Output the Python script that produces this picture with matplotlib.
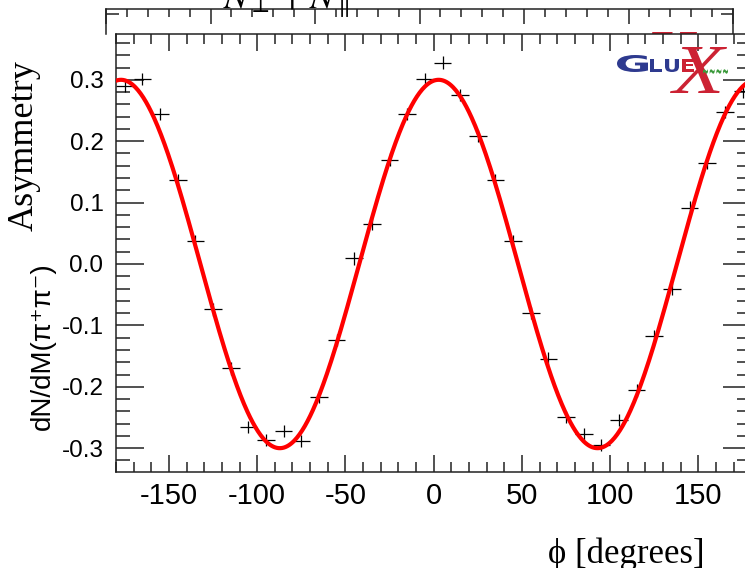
#!/usr/bin/env python3
"""
Beam asymmetry vs phi, with the GlueX logo (recreated from a screenshot)
"""

import numpy as np
import matplotlib
matplotlib.use("Agg")
import matplotlib.pyplot as plt
from matplotlib.ticker import MultipleLocator
from matplotlib.textpath import TextPath
from matplotlib.patches import PathPatch
from matplotlib.font_manager import FontProperties
from matplotlib.transforms import Affine2D, IdentityTransform

plt.rcParams["axes.unicode_minus"] = False

W, H = 745, 568  # output size in pixels

# --- data ---
phi_centers = [-175, -165, -155, -145, -135, -125, -115, -105, -95, -85,
               -75, -65, -55, -45, -35, -25, -15, -5, 5, 15,
               25, 35, 45, 55, 65, 75, 85, 95, 105, 115,
               125, 135, 145, 155, 165, 175]
asymmetry = [0.290, 0.301, 0.244, 0.137, 0.037, -0.074, -0.170, -0.266, -0.287, -0.272,
             -0.288, -0.216, -0.124, 0.009, 0.065, 0.170, 0.244, 0.301, 0.328, 0.275,
             0.208, 0.136, 0.038, -0.080, -0.154, -0.249, -0.277, -0.295, -0.254, -0.206,
             -0.118, -0.041, 0.092, 0.164, 0.248, 0.281]
asym_err = 0.010
bin_half_width = 5

# fit: A cos(2(phi - phi0))
fit_amplitude = 0.300
fit_phase = 2.8

x_ticks = [-150, -100, -50, 0, 50, 100, 150]
y_ticks = [-0.3, -0.2, -0.1, 0.0, 0.1, 0.2, 0.3]


def px_box(x0, y0, x1, y1):
    """pixel box (top-left origin) -> figure fraction rect"""
    return [x0 / W, 1 - y1 / H, (x1 - x0) / W, (y1 - y0) / H]


def logo_glyph(fig, s, x0, y0, x1, y1, color, prop, zorder):
    """draw text s stretched into the pixel box (top-left origin)"""
    tp = TextPath((0, 0), s, size=1, prop=prop)
    bb = tp.get_extents()
    tr = (Affine2D().translate(-bb.x0, -bb.y0)
          .scale((x1 - x0) / bb.width, (y1 - y0) / bb.height)
          .translate(x0, H - y1))
    patch = PathPatch(tr.transform_path(tp), facecolor=color, edgecolor="none",
                      transform=IdentityTransform(), zorder=zorder)
    fig.add_artist(patch)


def draw_logo(fig, dx, dy, zorder):
    blue = "#2e3a8f"
    red = "#cc2233"
    bold = FontProperties(family="DejaVu Sans", weight="bold")
    xfont = FontProperties(family="Liberation Serif", style="italic")
    logo_glyph(fig, "G", 617 + dx, 55 + dy, 648 + dx, 72 + dy, blue, bold, zorder)
    logo_glyph(fig, "L", 650 + dx, 59 + dy, 662 + dx, 72 + dy, blue, bold, zorder)
    logo_glyph(fig, "U", 665 + dx, 59 + dy, 679 + dx, 72 + dy, blue, bold, zorder)
    logo_glyph(fig, "E", 682 + dx, 59 + dy, 694 + dx, 72 + dy, red, bold, zorder)
    logo_glyph(fig, "X", 670 + dx, 47 + dy, 727 + dx, 93 + dy, red, xfont, zorder)
    logo_glyph(fig, "~~~~", 703 + dx, 69 + dy, 728 + dx, 74 + dy, "#3c9a3c", bold, zorder + 0.1)


fig = plt.figure(figsize=(W / 100, H / 100), dpi=100)

# back frame peeking out above the main plot
back = fig.add_axes(px_box(106, 9, 733, 34), zorder=-1)
back.set_facecolor("none")
back.set_xlim(0, 6)
back.set_ylim(0, 1)
back.spines["bottom"].set_visible(False)
for sp in back.spines.values():
    sp.set_linewidth(1.1)
    sp.set_color("#222222")
back.xaxis.set_major_locator(MultipleLocator(1))
back.xaxis.set_minor_locator(MultipleLocator(0.2))
back.set_yticks([0.8])
back.tick_params(axis="x", which="both", direction="in", top=True, bottom=False,
                 labeltop=False, labelbottom=False, width=1.1, color="#222222")
back.tick_params(axis="x", which="major", length=11)
back.tick_params(axis="x", which="minor", length=6)
back.tick_params(axis="y", direction="in", left=True, right=True, labelleft=False,
                 length=9, width=1.1, color="#222222")
draw_logo(fig, -30, -15, -2)

fig.text(223 / W, 1 - 8 / H, r"$N_{\perp} + N_{\parallel}$", fontsize=26,
         math_fontfamily="stix", va="baseline", ha="left")

# main plot
ax = fig.add_axes(px_box(116, 34, 751.4, 472))
ax.set_facecolor("white")
ax.set_xlim(-180, 180)
ax.set_ylim(-0.3388, 0.3746)

ax.errorbar(phi_centers, asymmetry, xerr=bin_half_width, yerr=asym_err,
            fmt="none", ecolor="black", elinewidth=0.9, zorder=2)

phi = np.linspace(-180, 180, 721)
ax.plot(phi, fit_amplitude * np.cos(2 * np.radians(phi - fit_phase)),
        color="#ff0000", lw=3.0, zorder=3)

ax.set_xticks(x_ticks)
ax.set_xticklabels([str(v) for v in x_ticks], fontsize=21, family="Liberation Sans")
ax.set_yticks(y_ticks)
ax.set_yticklabels([f"{v:.1f}" for v in y_ticks], fontsize=17.5, family="Liberation Sans")
ax.xaxis.set_minor_locator(MultipleLocator(10))
ax.yaxis.set_minor_locator(MultipleLocator(0.02))
ax.tick_params(which="both", direction="in", top=True, right=True,
               width=1.1, color="#222222")
ax.tick_params(axis="x", which="major", length=12, pad=7)
ax.tick_params(axis="x", which="minor", length=7)
ax.tick_params(axis="y", which="major", length=20, pad=9)
ax.tick_params(axis="y", which="minor", length=10)
for sp in ax.spines.values():
    sp.set_linewidth(1.1)
    sp.set_color("#222222")

draw_logo(fig, 0, 0, 5)

# axis titles
fig.text(33 / W, 1 - 146 / H, "Asymmetry", rotation=90, rotation_mode="anchor",
         ha="center", va="baseline", fontsize=26, family="Liberation Serif")
fig.text(50 / W, 1 - 346 / H, "dN/dM(π⁺π⁻)", rotation=90, rotation_mode="anchor",
         ha="center", va="baseline", fontsize=20, family=["Liberation Sans", "DejaVu Sans"])
fig.text(705 / W, 1 - 563 / H, "ϕ [degrees]", ha="right", va="baseline",
         fontsize=25, family=["Liberation Serif", "DejaVu Serif"])

fig.savefig("out.png", dpi=100)
